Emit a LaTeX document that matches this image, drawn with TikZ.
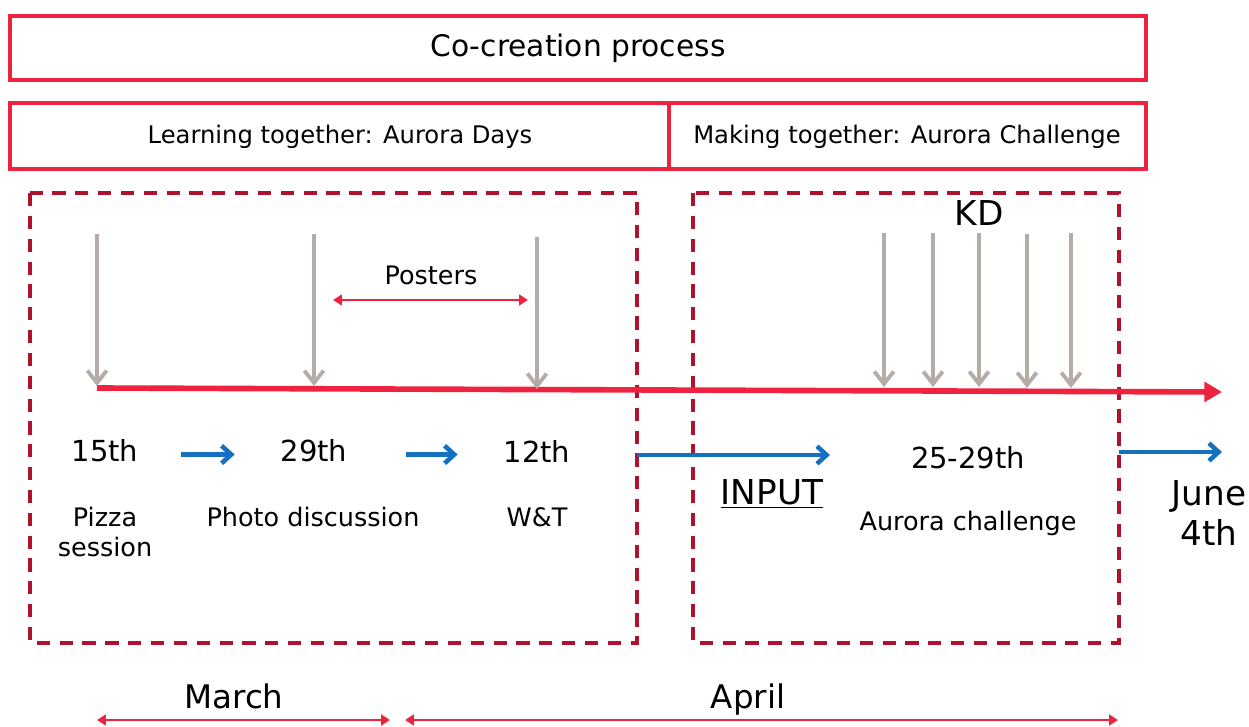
\documentclass[tikz,border=0pt]{standalone}
\usepackage{fontspec}
\setmainfont{DejaVu Sans}
\usetikzlibrary{arrows.meta}

\definecolor{boxred}{HTML}{EE2340}
\definecolor{dashred}{HTML}{B0122E}
\definecolor{pingray}{HTML}{B5ACA8}
\definecolor{flowblue}{HTML}{1470C0}

\tikzset{
	phasebox/.style={draw=boxred, line width=2.6pt},
	periodbox/.style={draw=dashred, line width=2.8pt, dash pattern=on 7.5pt off 5.5pt},
	timeline/.style={draw=boxred, line width=3.2pt, -{Triangle[length=10pt,width=11pt]}},
	pin/.style={draw=pingray, line width=2.2pt, -{Straight Barb[length=7pt,width=11pt]}},
	flow/.style={draw=flowblue, line width=2.6pt, -{Straight Barb[length=5.5pt,width=10pt]}},
	span/.style={draw=boxred, line width=1.5pt, {Triangle[length=5pt,width=6pt]}-{Triangle[length=5pt,width=6pt]}},
	headtxt/.style={inner sep=0pt, font=\fontsize{13.8}{16}\selectfont},
	datetxt/.style={inner sep=0pt, font=\fontsize{16.5}{19}\selectfont},
	lbltxt/.style={inner sep=0pt, align=center, font=\fontsize{14.5}{17.6}\selectfont},
	bigtxt/.style={inner sep=0pt, align=center, font=\fontsize{19.5}{22.7}\selectfont},
	monthtxt/.style={inner sep=0pt, anchor=base, font=\fontsize{18.5}{22}\selectfont}
}

\begin{document}
\begin{tikzpicture}[x=0.02cm, y=-0.02cm]
		%%%%% START %%%%%
		\useasboundingbox (0,0) rectangle (1249,727);
		
		% phases
		\draw[phasebox] (10,16) rectangle (1146,80);
		\node[inner sep=0pt, font=\fontsize{16.9}{20}\selectfont] (cocreation) at (578,48) {Co-creation process};
		\draw[phasebox] (10,103) rectangle (1146,169);
		\draw[phasebox] (669,103) -- (669,169);
		\node[headtxt] (learning) at (340,137) {Learning together: Aurora Days};
		\node[headtxt] (making) at (907,137) {Making together: Aurora Challenge};
		
		% periods
		\draw[periodbox] (30,193) rectangle (637,643);
		\draw[periodbox] (693,193) rectangle (1119,643);
		
		% timeline and events
		\coordinate (tstart) at (97,388);
		\coordinate (tend) at (1222,392);
		\draw[timeline] (tstart) -- (tend);
		
		\foreach \x/\ya/\yb [count=\i] in {97/234/386, 314/234/386, 537/237/389, 884/233/387, 933/233/387, 979/233/387, 1027/234/388, 1071/233/388}{
			\coordinate (pintop\i) at (\x,\ya);
			\coordinate (pinbot\i) at (\x,\yb);
			\draw[pin] (pintop\i) -- (pinbot\i);
		}
		
		\node[bigtxt] (kd) at (979,213) {KD};
		\node[lbltxt] (posters) at (431,275) {Posters};
		\coordinate (postersL) at (333,300);
		\coordinate (postersR) at (528,300);
		\draw[span] (postersL) -- (postersR);
		
		% dates
		\node[datetxt] (d15) at (105,451) {15th};
		\node[datetxt] (d29) at (314,451) {29th};
		\node[datetxt] (d12) at (537,451) {12th};
		\node[datetxt] (d25) at (968,458) {25-29th};
		
		\draw[flow] ([xshift=24pt,yshift=-2pt]d15.east) -- ([xshift=-26pt,yshift=-2pt]d29.west);
		\draw[flow] ([xshift=33pt,yshift=-2pt]d29.east) -- ([xshift=-26pt,yshift=-2pt]d12.west);
		
		\coordinate (inputL) at (637,455);
		\coordinate (inputR) at (830,455);
		\draw[flow] (inputL) -- (inputR);
		\coordinate (juneL) at (1119,452);
		\coordinate (juneR) at (1222,452);
		\draw[flow] (juneL) -- (juneR);
		
		\node[lbltxt] (pizza) at (105,532) {Pizza\\session};
		\node[lbltxt] (photo) at (313,517) {Photo discussion};
		\node[lbltxt] (wt) at (537,517) {W\&T};
		\node[bigtxt] (input) at (772,494) {\underline{INPUT}};
		\node[lbltxt] (challenge) at (968,523) {Aurora challenge};
		\node[bigtxt] (june) at (1209,513) {June\\4th};
		
		% months
		\node[monthtxt] (march) at (234,708) {March};
		\node[monthtxt] (april) at (748,708) {April};
		\coordinate (marchL) at (97,720);
		\coordinate (marchR) at (390,720);
		\coordinate (aprilL) at (405,720);
		\coordinate (aprilR) at (1118,720);
		\draw[span] (marchL) -- (marchR);
		\draw[span] (aprilL) -- (aprilR);
		
		%%%%% END %%%%%
	\end{tikzpicture}
\end{document}
